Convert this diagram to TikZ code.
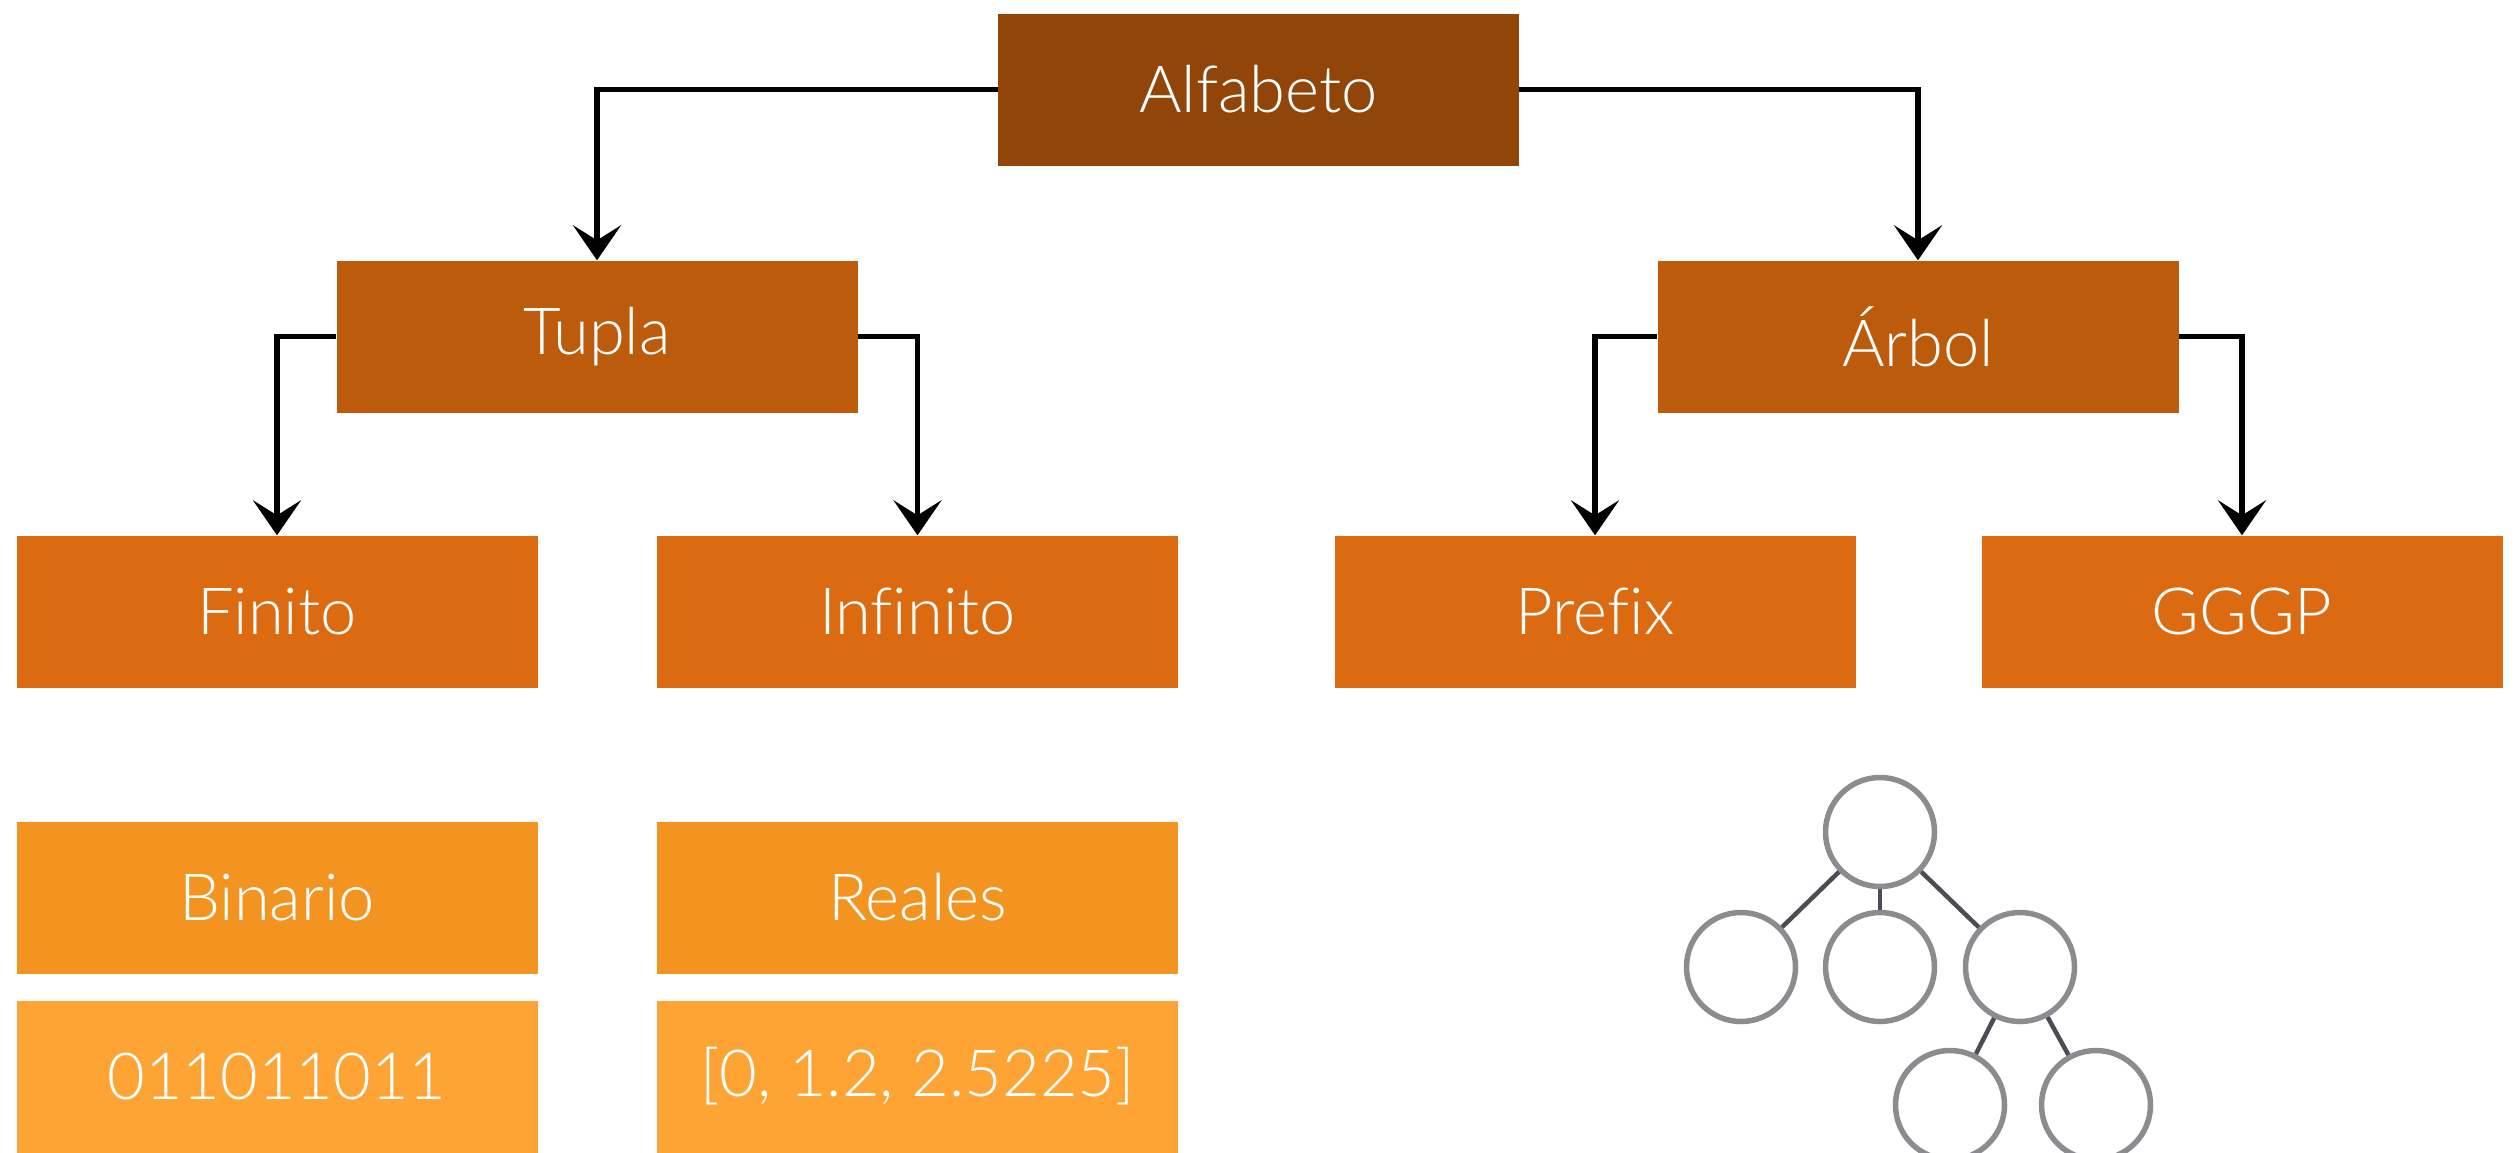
\documentclass[tikz,border=0pt]{standalone}
\usepackage{fontspec}
\setmainfont{Lato Light}[Ligatures=NoCommon]
\usetikzlibrary{arrows.meta}

\definecolor{rootbrown}{HTML}{924508}
\definecolor{midrust}{HTML}{BD5B0C}
\definecolor{leaforange}{HTML}{DC6A10}
\definecolor{exorange}{HTML}{F39320}
\definecolor{valorange}{HTML}{FDA434}
\definecolor{ringgray}{HTML}{8A8C90}
\definecolor{edgegray}{HTML}{4A4E54}

\tikzset{
  box/.style={rectangle, minimum width=521pt, minimum height=152pt, inner sep=0pt,
    text=white, font=\fontsize{65}{72}\selectfont},
  sketch/.style={draw=black, line width=5.5pt, line join=miter,
    -{Stealth[length=35pt, width=48pt, inset=15pt]}},
  ring/.style={circle, draw=ringgray, line width=5.5pt, minimum size=109pt, inner sep=0pt, fill=white},
  twig/.style={draw=edgegray, line width=4.5pt},
}

\begin{document}
\begin{tikzpicture}[x=1pt, y=-1pt]
  \useasboundingbox (0,0) rectangle (2517,1152);

  % hierarchy boxes
  \node[box, fill=rootbrown]  (alf) at (1258.5, 89.5) {Alfabeto};
  \node[box, fill=midrust]    (tup) at (597, 336.5)   {Tupla};
  \node[box, fill=midrust]    (arb) at (1918, 336.5)  {Árbol};
  \node[box, fill=leaforange] (fin) at (277, 611.5)   {Finito};
  \node[box, fill=leaforange] (inf) at (917.5, 611.5) {Infinito};
  \node[box, fill=leaforange] (pre) at (1595, 611.5)  {Prefix};
  \node[box, fill=leaforange] (ggp) at (2242, 611.5)  {GGGP};

  % examples
  \node[box, fill=exorange]  (bin) at (277, 897.5)    {Binario};
  \node[box, fill=exorange]  (rea) at (917.5, 897.5)  {Reales};
  \node[box, fill=valorange] (bv)  at (277, 1076.5)   {011011011};
  \node[box, fill=valorange] (rv)  at (917.5, 1076.5) {[0, 1.2, 2.5225]};

  % connectors
  \draw[sketch] (alf.west) -| (tup.north);
  \draw[sketch] (alf.east) -| (arb.north);
  \draw[sketch] (tup.west) -| (fin.north);
  \draw[sketch] (tup.east) -| (inf.north);
  \draw[sketch] (arb.west) -| (pre.north);
  \draw[sketch] (arb.east) -| (ggp.north);

  % small tree
  \node[ring] (t0) at (1880, 832)  {};
  \node[ring] (t1) at (1741, 967)  {};
  \node[ring] (t2) at (1880, 967)  {};
  \node[ring] (t3) at (2020, 967)  {};
  \node[ring] (t4) at (1950, 1105) {};
  \node[ring] (t5) at (2096, 1105) {};
  \draw[twig] (t0) -- (t1);
  \draw[twig] (t0) -- (t2);
  \draw[twig] (t0) -- (t3);
  \draw[twig] (t3) -- (t4);
  \draw[twig] (t3) -- (t5);
\end{tikzpicture}
\end{document}
